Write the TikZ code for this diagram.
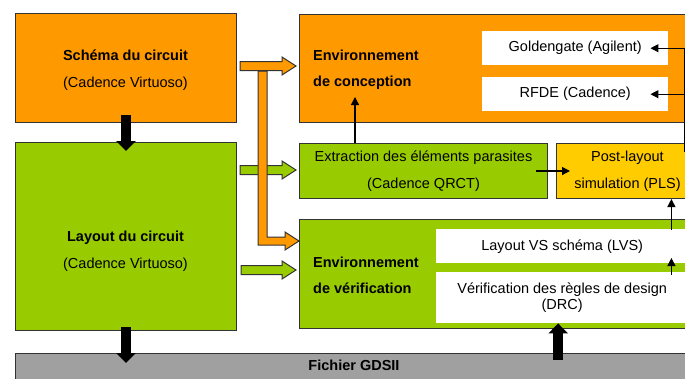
\documentclass[tikz,border=0pt]{standalone}
\usepackage{fontspec}
\setmainfont{Liberation Sans}
\usetikzlibrary{arrows.meta,positioning,calc}
\definecolor{cSch} {HTML}{FF9900}
\definecolor{cLay} {HTML}{99CC00}
\definecolor{cSim} {HTML}{FFCC00}
\definecolor{cGds} {HTML}{A0A0A0}
\definecolor{cEdge}{HTML}{333333}
\tikzset{
  blk/.style  ={draw=cEdge,line width=1pt,inner sep=0pt,align=center,
                font=\fontsize{14.5}{27}\selectfont},
  sch/.style  ={blk,fill=cSch},
  lay/.style  ={blk,fill=cLay},
  sim/.style  ={blk,fill=cSim},
  gds/.style  ={blk,fill=cGds},
  tool/.style ={fill=white,inner sep=0pt,align=center,font=\fontsize{14.5}{16}\selectfont},
  ttl/.style  ={font=\fontsize{14.5}{26}\selectfont\bfseries,align=left,inner sep=0pt},
  sig/.style  ={-{Triangle[length=8pt,width=8pt]},draw=black,line width=1.2pt},
  fat/.style  ={-{Triangle[length=10pt,width=19pt]},draw=black,line width=10pt},
  flow/.style ={draw=cEdge,line width=1pt},
}
% block arrow: start point, length, fill colour (shaft 9, head 18 x 14)
\newcommand{\flowarrow}[3]{%
  \draw[flow,fill=#3] ($#1+(0,-4.5)$) -- ++({#2-14},0) -- ++(0,-4.5) -- ++(14,9)
    -- ++(-14,9) -- ++(0,-4.5) -- ++({14-#2},0) -- cycle;}

\begin{document}
\begin{tikzpicture}[x=1pt, y=-1pt]
\useasboundingbox (0,0) rectangle (685,378);
\clip (0,0) rectangle (685,378);

% ===== left column: schematic, layout, GDSII ===============================
\node[sch,anchor=north west,minimum width=221pt,minimum height=109pt] (schema) at (15,13) {};
\node[blk,draw=none] (schemaTxt) at (125.5,70) {\textbf{Schéma du circuit}\\(Cadence Virtuoso)};
\node[lay,anchor=north west,minimum width=221pt,minimum height=188pt] (layout) at (15,142) {};
\node[blk,draw=none] (layoutTxt) at (125.5,251) {\textbf{Layout du circuit}\\(Cadence Virtuoso)};
\node[gds,anchor=north west,minimum width=676pt,minimum height=40pt] (gdsii) at (15,353) {};
\node[font=\fontsize{14.5}{17}\selectfont\bfseries,inner sep=0pt] (gdsTxt) at (354,365) {Fichier GDSII};

% ===== design environment ==================================================
\node[sch,anchor=north west,minimum width=400pt,minimum height=108pt] (conc) at (299,14) {};
\node[ttl,anchor=west] (concTxt) at (313,70) {Environnement\\de conception};
\node[tool,anchor=north west,minimum width=186pt,minimum height=34pt] (gold) at (482,31) {Goldengate (Agilent)};
\node[tool,anchor=north west,minimum width=186pt,minimum height=34pt] (rfde) at (482,77) {RFDE (Cadence)};

% ===== extraction and post-layout simulation ===============================
\node[lay,anchor=north west,minimum width=248pt,minimum height=55pt] (extr) at (299,143)
  {Extraction des éléments parasites\\(Cadence QRCT)};
\node[sim,anchor=north west,minimum width=142pt,minimum height=55pt] (pls) at (556,143)
  {Post-layout\\simulation (PLS)};

% ===== verification environment ============================================
\node[lay,anchor=north west,minimum width=401pt,minimum height=109pt] (verif) at (299,219) {};
\node[ttl,anchor=west] (verifTxt) at (313,275) {Environnement\\de vérification};
\node[tool,anchor=north west,minimum width=252pt,minimum height=34pt] (lvs) at (436,229) {Layout VS schéma (LVS)};
\node[tool,anchor=north west,minimum width=252pt,minimum height=51pt] (drc) at (436,272)
  {Vérification des règles de design\\(DRC)};

% ===== block arrows between the columns ====================================
\flowarrow{(240,170)}{56}{cLay}
\flowarrow{(241,270)}{55}{cLay}
% schematic also feeds verification: one bar bent into the lower arrow
\coordinate (barTop) at (258,71);
\draw[flow,fill=cSch] (barTop) -- ++(9,0) -- (267,237) -- (285,237)
  -- (285,232) -- (299,241) -- (285,250) -- (285,245) -- (258,245) -- cycle;
\flowarrow{(240,66)}{56}{cSch}

\draw[fat] ($(schema.south)+(0,-8)$) -- ($(layout.north)+(0,9)$);
\draw[fat] ($(layout.south)+(0,-4)$) -- ($(layout.south |- gdsii.north)+(0,10)$);
\draw[fat] ($(drc.south |- gdsii.north)+(-4,7)$) -- ($(drc.south)+(-4,0)$);

% ===== signal arrows =======================================================
\draw[sig] ($(extr.north west)+(56,0)$) -- ++(0,-46);
\draw[sig] ($(extr.east)+(-12,0)$) -- ($(pls.west)+(14,0)$);
\coordinate (plsTap) at ($(pls.north east)+(-14,9)$);
\draw[sig] (plsTap) |- ($(gold.east)+(-18,0)$);
\draw[sig] (plsTap) |- ($(rfde.east)+(-18,0)$);
\draw[sig] ($(lvs.north east)+(-17,1)$) -- ($(lvs.north east |- pls.south)+(-17,0)$);
\draw[sig] ($(drc.north east)+(-17,3)$) -- ++(0,-17);
\end{tikzpicture}
\end{document}
